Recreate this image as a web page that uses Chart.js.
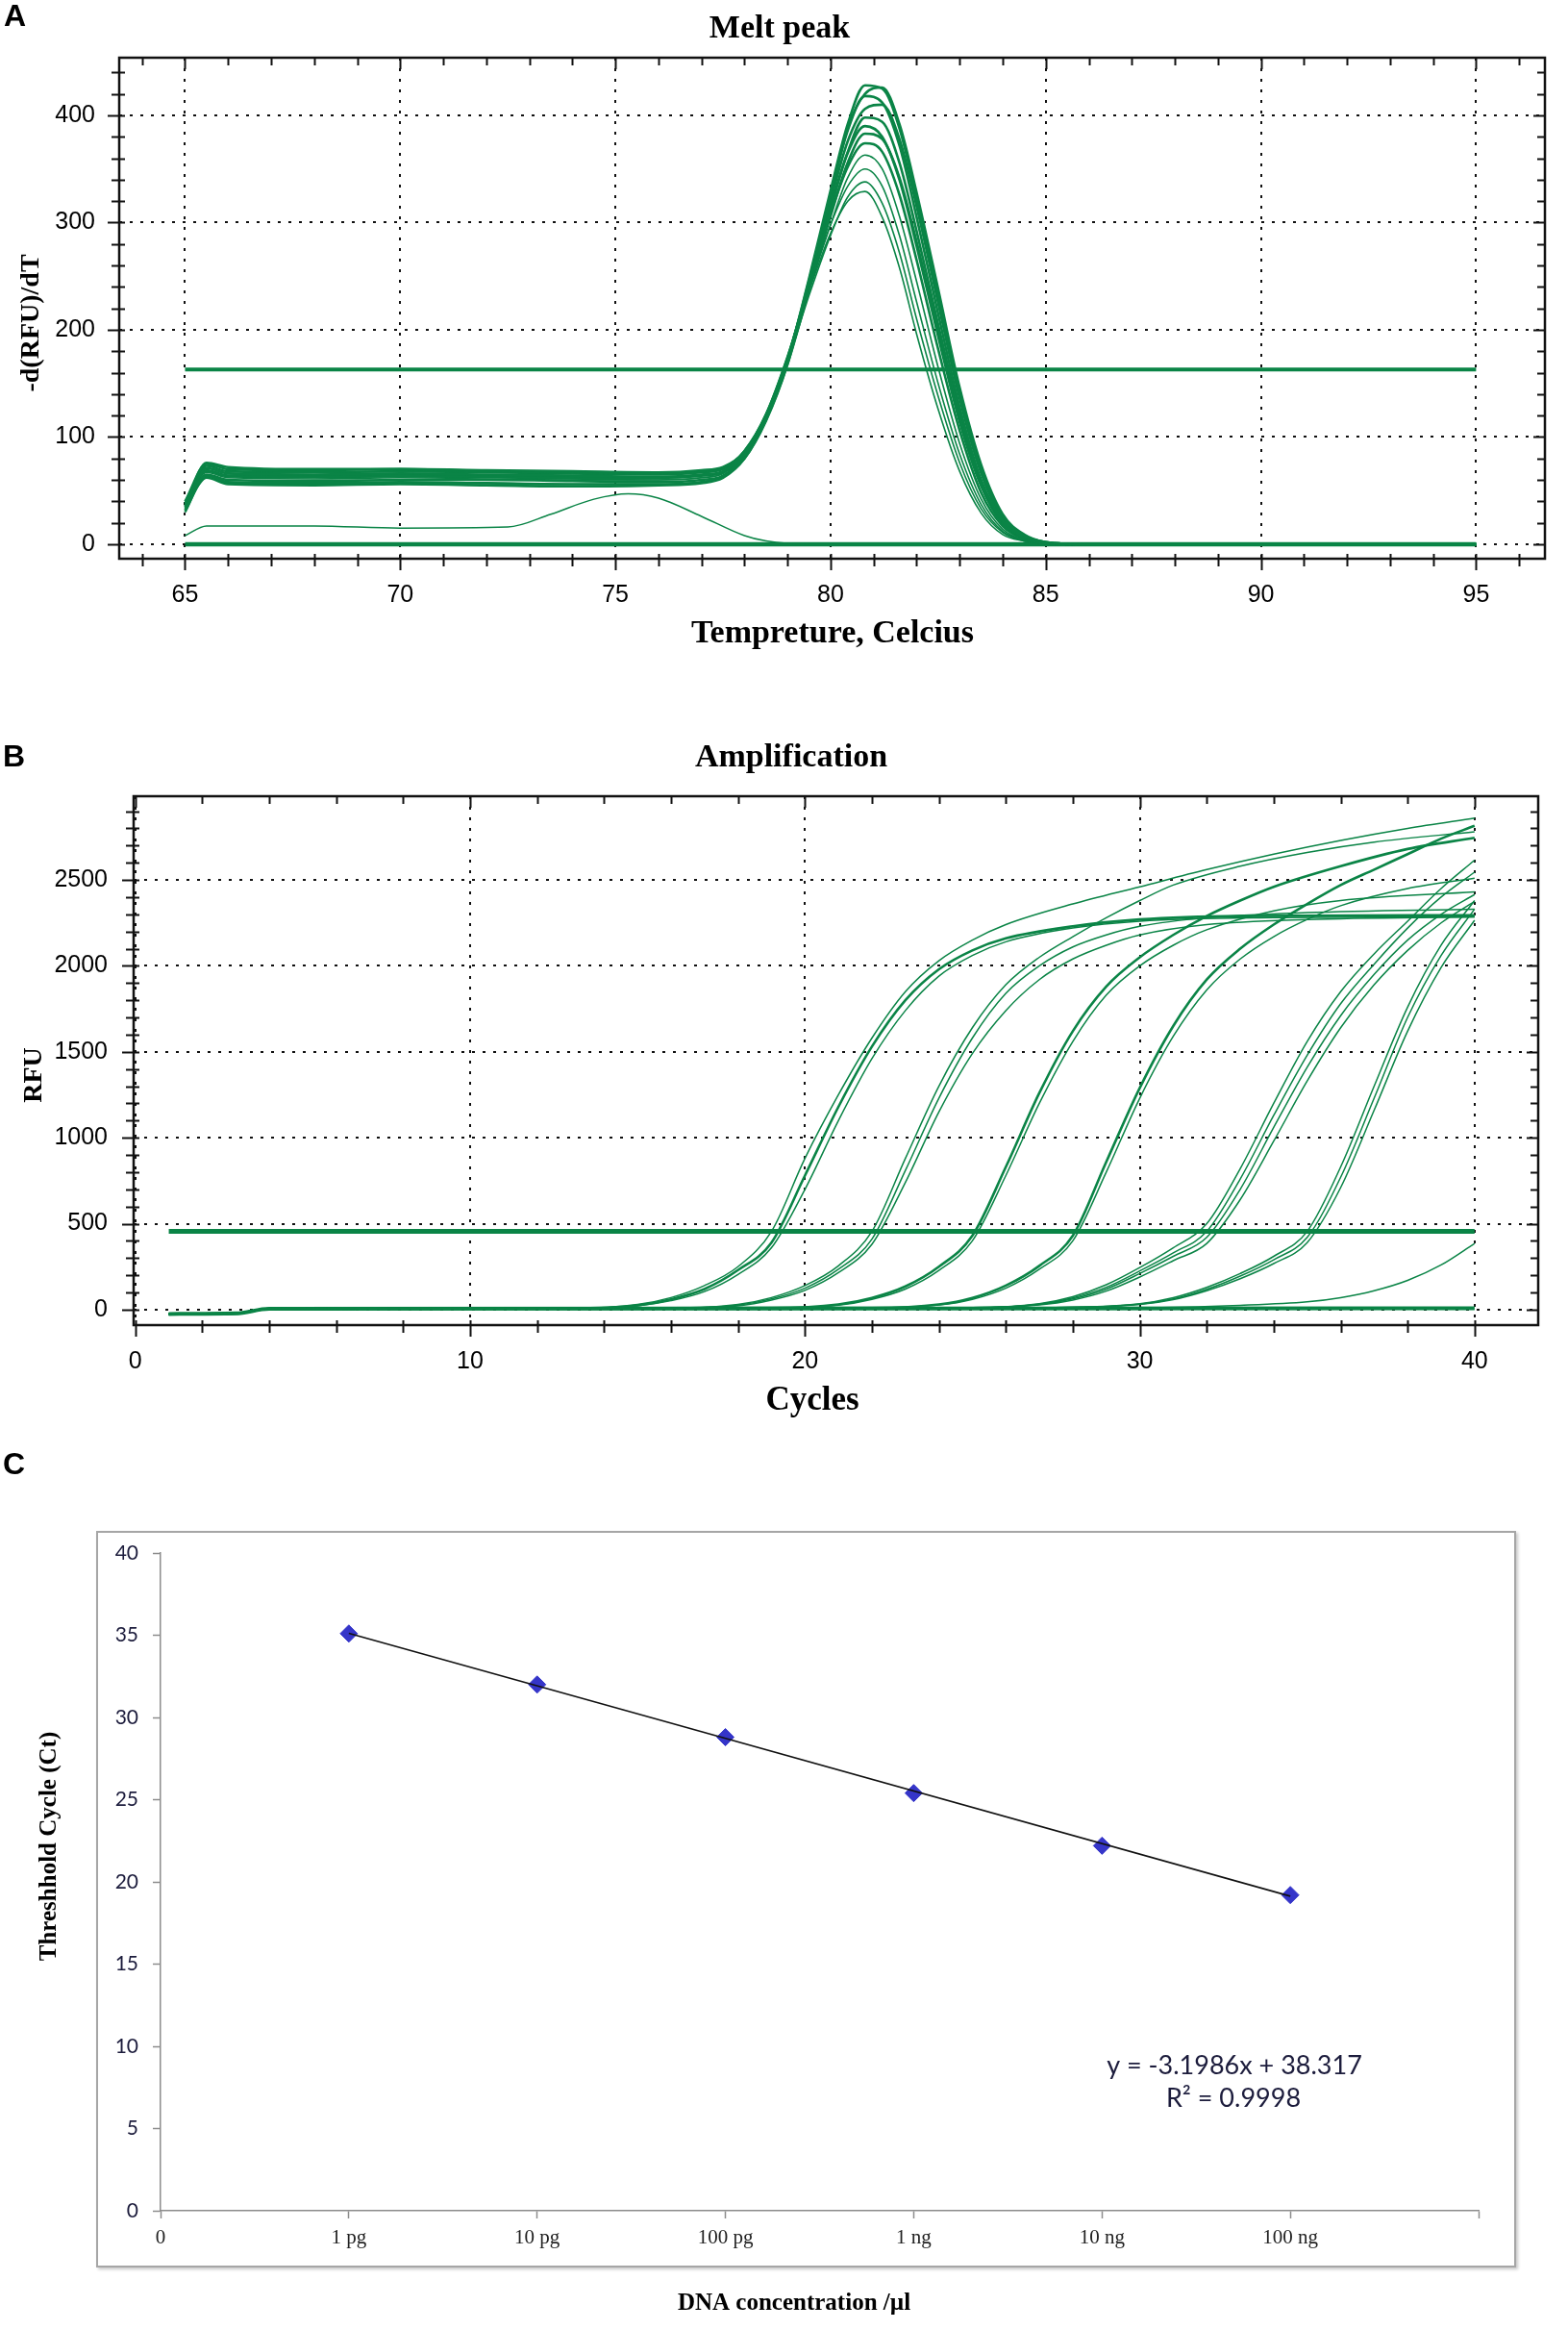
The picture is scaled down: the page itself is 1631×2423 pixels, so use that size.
<!DOCTYPE html>
<html>
<head>
<meta charset="utf-8">
<title>Melt peak, amplification and standard curve</title>
<script src="https://cdn.jsdelivr.net/npm/chart.js@4.4.1/dist/chart.umd.min.js"></script>
<style>
  html, body { margin: 0; padding: 0; background: #fff; }
  body { width: 1631px; height: 2423px; position: relative; overflow: hidden; }
  canvas { position: absolute; left: 0; }
  #meltChart { top: 0; }
  #ampChart { top: 740px; }
  #stdChart { top: 1480px; }
  .std-box { position: absolute; left: 100px; top: 1592px; width: 1473px; height: 762px;
             border: 2px solid #a6a6a6; box-shadow: 2px 2px 3px #c8c8c8; }
</style>
</head>
<body>
<div class="std-box"></div>
<canvas id="meltChart" width="1631" height="700"></canvas>
<canvas id="ampChart" width="1631" height="740"></canvas>
<canvas id="stdChart" width="1631" height="943"></canvas>
<script>
// ---- Panel A: melt peak ----
const meltTicksX = [65, 70, 75, 80, 85, 90, 95];
const meltTicksY = [0, 100, 200, 300, 400];
const meltTemp = [65, 65.5, 66, 68, 70, 72, 74, 76, 77, 77.5, 78, 78.5, 79, 79.5, 80, 80.4, 80.8, 81.2, 81.6, 82, 82.5, 83, 83.5, 84, 84.5, 85, 86, 95];
const meltCurves = [
    [35, 76, 72, 70, 70, 69, 68, 67, 69, 72, 86, 118, 172, 248, 330, 392, 428, 425, 388, 322, 232, 140, 70, 26, 8, 2, 0, 0],
    [38, 64, 58, 57, 58, 57, 56, 56, 58, 63, 80, 115, 168, 243, 325, 388, 420, 426, 392, 328, 238, 146, 74, 28, 9, 2, 0, 0],
    [32, 71, 66, 65, 66, 65, 64, 63, 65, 68, 85, 118, 172, 246, 326, 386, 418, 412, 372, 305, 215, 128, 60, 22, 7, 1, 0, 0],
    [40, 75, 70, 69, 70, 68, 67, 66, 68, 71, 87, 120, 172, 244, 320, 376, 406, 410, 378, 315, 225, 136, 66, 24, 8, 2, 0, 0],
    [34, 62, 56, 55, 56, 55, 54, 55, 57, 62, 80, 116, 168, 238, 312, 366, 398, 394, 356, 292, 205, 122, 58, 21, 6, 1, 0, 0],
    [36, 69, 64, 63, 64, 63, 62, 62, 64, 67, 85, 120, 173, 243, 315, 365, 390, 380, 340, 278, 194, 114, 54, 19, 6, 1, 0, 0],
    [30, 65, 60, 59, 60, 60, 59, 58, 60, 64, 83, 118, 170, 238, 306, 356, 383, 378, 342, 282, 198, 118, 56, 20, 6, 1, 0, 0],
    [38, 73, 68, 67, 68, 67, 66, 65, 67, 70, 87, 121, 174, 242, 308, 352, 374, 366, 326, 265, 182, 106, 48, 17, 5, 1, 0, 0],
    [33, 67, 62, 61, 62, 61, 60, 60, 62, 66, 84, 119, 171, 237, 298, 342, 363, 350, 306, 245, 165, 94, 42, 14, 4, 1, 0, 0],
    [36, 71, 66, 64, 65, 64, 63, 62, 64, 68, 86, 122, 176, 240, 298, 334, 350, 334, 288, 226, 150, 84, 37, 12, 4, 1, 0, 0],
    [31, 62, 57, 56, 57, 57, 56, 56, 58, 63, 82, 118, 170, 232, 288, 324, 338, 318, 272, 210, 138, 76, 33, 11, 3, 1, 0, 0],
    [35, 68, 63, 62, 63, 62, 61, 60, 62, 66, 85, 121, 174, 236, 290, 320, 329, 305, 258, 196, 126, 68, 29, 9, 3, 0, 0, 0]
];
// single sample with a small early peak
const bumpTemp = [65, 65.5, 68, 70, 72.5, 73.5, 74.5, 75.3, 76, 77, 78, 78.5, 79.5, 85, 95];
const bumpValues = [8, 17, 17, 15, 16, 28, 42, 47, 43, 26, 8, 3, 0, 0, 0];
const meltThreshold = 163;
const meltRange = [65, 95];

// ---- Panel B: amplification ----
const ampTicksX = [0, 10, 20, 30, 40];
const ampTicksY = [0, 500, 1000, 1500, 2000, 2500];
const ampCurves = [
    [[1, -25], [3, -22], [4, 5], [13, 8], [15, 30], [16, 70], [17, 140], [18, 250], [19, 455], [20, 880], [21, 1250], [22, 1580], [23, 1850], [24, 2030], [25, 2150], [26, 2240], [28, 2360], [30, 2460], [32, 2560], [34, 2650], [36, 2730], [38, 2800], [40, 2860]],
    [[1, -25], [3, -22], [4, 5], [13, 8], [15, 25], [16, 60], [17, 120], [18, 230], [19, 390], [20, 780], [21, 1180], [22, 1530], [23, 1800], [24, 1980], [25, 2090], [26, 2160], [28, 2230], [30, 2270], [33, 2290], [40, 2295]],
    [[1, -25], [3, -22], [4, 5], [13, 8], [15, 22], [16, 52], [17, 105], [18, 205], [19, 360], [20, 700], [21, 1100], [22, 1460], [23, 1740], [24, 1940], [25, 2060], [26, 2140], [28, 2220], [30, 2260], [34, 2280], [40, 2285]],
    [[1, -25], [3, -22], [4, 5], [16, 10], [18, 30], [19, 70], [20, 140], [21, 255], [22, 455], [23, 880], [24, 1300], [25, 1640], [26, 1890], [27, 2050], [28, 2170], [29, 2280], [30, 2380], [31, 2470], [33, 2580], [35, 2660], [37, 2720], [40, 2780]],
    [[1, -25], [3, -22], [4, 5], [16, 10], [18, 26], [19, 62], [20, 125], [21, 235], [22, 410], [23, 810], [24, 1230], [25, 1580], [26, 1840], [27, 2000], [28, 2110], [29, 2180], [30, 2230], [32, 2280], [35, 2310], [40, 2330]],
    [[1, -25], [3, -22], [4, 5], [16, 10], [18, 22], [19, 55], [20, 112], [21, 215], [22, 380], [23, 740], [24, 1150], [25, 1490], [26, 1740], [27, 1920], [28, 2040], [29, 2120], [30, 2180], [32, 2240], [35, 2270], [40, 2285]],
    [[1, -25], [3, -22], [4, 5], [19, 10], [21, 30], [22, 68], [23, 135], [24, 250], [25, 430], [26, 830], [27, 1260], [28, 1620], [29, 1880], [30, 2050], [31, 2180], [32, 2290], [33, 2380], [34, 2460], [36, 2580], [38, 2680], [40, 2745]],
    [[1, -25], [3, -22], [4, 5], [19, 10], [21, 26], [22, 60], [23, 120], [24, 228], [25, 400], [26, 780], [27, 1200], [28, 1560], [29, 1830], [30, 2000], [31, 2120], [32, 2210], [34, 2320], [36, 2380], [40, 2430]],
    [[1, -25], [3, -22], [4, 5], [22, 10], [24, 30], [25, 68], [26, 140], [27, 255], [28, 430], [29, 860], [30, 1290], [31, 1650], [32, 1920], [33, 2100], [34, 2240], [35, 2360], [36, 2470], [37, 2560], [38, 2650], [39, 2740], [40, 2815]],
    [[1, -25], [3, -22], [4, 5], [22, 10], [24, 27], [25, 60], [26, 125], [27, 235], [28, 400], [29, 800], [30, 1230], [31, 1590], [32, 1860], [33, 2040], [34, 2170], [35, 2270], [36, 2350], [38, 2450], [40, 2510]],
    [[1, -25], [3, -22], [4, 5], [25, 12], [27, 35], [28, 75], [29, 145], [30, 245], [31, 360], [32, 500], [33, 820], [34, 1200], [35, 1560], [36, 1850], [37, 2070], [38, 2260], [39, 2450], [40, 2615]],
    [[1, -25], [3, -22], [4, 5], [25, 12], [27, 32], [28, 68], [29, 130], [30, 225], [31, 330], [32, 455], [33, 760], [34, 1130], [35, 1480], [36, 1780], [37, 2010], [38, 2220], [39, 2400], [40, 2545]],
    [[1, -25], [3, -22], [4, 5], [25, 12], [27, 30], [28, 62], [29, 120], [30, 210], [31, 310], [32, 420], [33, 700], [34, 1060], [35, 1410], [36, 1710], [37, 1950], [38, 2150], [39, 2300], [40, 2415]],
    [[1, -25], [3, -22], [4, 5], [25, 12], [27, 28], [28, 56], [29, 108], [30, 190], [31, 285], [32, 385], [33, 640], [34, 980], [35, 1330], [36, 1640], [37, 1890], [38, 2090], [39, 2250], [40, 2375]],
    [[1, -25], [3, -22], [4, 5], [27, 12], [30, 35], [31, 70], [32, 130], [33, 210], [34, 310], [35, 455], [36, 830], [37, 1300], [38, 1760], [39, 2120], [40, 2380]],
    [[1, -25], [3, -22], [4, 5], [27, 12], [30, 32], [31, 62], [32, 118], [33, 195], [34, 290], [35, 420], [36, 770], [37, 1230], [38, 1700], [39, 2060], [40, 2330]],
    [[1, -25], [3, -22], [4, 5], [27, 12], [30, 30], [31, 58], [32, 110], [33, 180], [34, 268], [35, 390], [36, 710], [37, 1160], [38, 1620], [39, 1990], [40, 2265]],
    [[1, -25], [3, -22], [4, 5], [30, 12], [33, 25], [35, 45], [36, 70], [37, 110], [38, 170], [39, 260], [40, 385]],
    [[1, -25], [3, -22], [4, 5], [40, 8]]
];
const ampThreshold = 455;
const ampRange = [1, 40];

// ---- Panel C: standard curve ----
const concLabels = ['0', '1 pg', '10 pg', '100 pg', '1 ng', '10 ng', '100 ng', ''];
const concIndex = [1, 2, 3, 4, 5, 6];
const ctValues = [35.1, 32.0, 28.8, 25.4, 22.2, 19.2];
const trendIndex = [1, 6];
const trendCt = [35.12, 19.13];
const ctTicks = [0, 5, 10, 15, 20, 25, 30, 35, 40];

const GREEN = '#0a8446';
const serifBold = 'bold 34px "Liberation Serif", "DejaVu Serif", serif';
const tickFont = { family: '"Liberation Sans", Arial, sans-serif', size: 25 };

// draws free text (titles, panel letters, equation)
function textLayer(id, items) {
    return {
        id,
        afterDraw(chart) {
            const ctx = chart.ctx;
            items.forEach(it => {
                ctx.save();
                ctx.font = it.font;
                ctx.fillStyle = it.color || '#000';
                ctx.textAlign = it.align || 'center';
                ctx.textBaseline = 'middle';
                ctx.translate(it.x, it.y);
                if (it.rotate) ctx.rotate(it.rotate * Math.PI / 180);
                ctx.fillText(it.text, 0, 0);
                ctx.restore();
            });
        }
    };
}

// black frame with small inner tick marks, like the instrument software
function frameTicks(spec) {
    return {
        id: 'frameTicks',
        afterDraw(chart) {
            const { ctx, chartArea: a } = chart;
            const sx = chart.scales.x, sy = chart.scales.y;
            ctx.save();
            ctx.strokeStyle = '#111';
            ctx.lineWidth = 2;
            ctx.beginPath();
            for (let n = Math.ceil(sx.min / spec.xStep); n * spec.xStep <= sx.max; n++) {
                const p = Math.round(sx.getPixelForValue(n * spec.xStep)) + 0.5;
                const len = n % spec.xEvery === 0 ? 12 : 8;
                ctx.moveTo(p, a.bottom - 5); ctx.lineTo(p, a.bottom + len);
                ctx.moveTo(p, a.top); ctx.lineTo(p, a.top + len);
            }
            for (let n = Math.ceil(sy.min / spec.yStep); n * spec.yStep <= sy.max; n++) {
                const p = Math.round(sy.getPixelForValue(n * spec.yStep)) + 0.5;
                const len = n % spec.yEvery === 0 ? 12 : 8;
                ctx.moveTo(a.left - len, p); ctx.lineTo(a.left + 6, p);
                ctx.moveTo(a.right - len, p); ctx.lineTo(a.right, p);
            }
            ctx.stroke();
            ctx.lineWidth = 2.5;
            ctx.strokeRect(a.left, a.top, a.right - a.left, a.bottom - a.top);
            ctx.restore();
        }
    };
}

function softwareAxis(ticks, size, afterFit) {
    return {
        type: 'linear',
        afterBuildTicks: s => { s.ticks = ticks.map(v => ({ value: v })); },
        afterFit,
        grid: { color: '#111', lineWidth: 2, drawTicks: false },
        border: { display: false, dash: [3, 8] },
        ticks: { padding: size, font: tickFont, color: '#000', autoSkip: false, maxRotation: 0,
                 callback: v => String(v) }
    };
}

const baseOptions = {
    responsive: false,
    animation: false,
    devicePixelRatio: 1,
    plugins: { legend: { display: false }, tooltip: { enabled: false } },
    elements: { point: { radius: 0 }, line: { cubicInterpolationMode: 'monotone' } }
};

// Panel A
const meltSets = meltCurves.map((vals, i) => ({
    data: meltTemp.map((t, j) => ({ x: t, y: vals[j] })),
    borderColor: GREEN,
    borderWidth: i < 8 ? 2.6 : 1.6
}));
meltSets.push({ data: bumpTemp.map((t, j) => ({ x: t, y: bumpValues[j] })), borderColor: GREEN, borderWidth: 1.5 });
meltSets.push({ data: meltRange.map(t => ({ x: t, y: meltThreshold })), borderColor: GREEN, borderWidth: 4 });
meltSets.push({ data: meltRange.map(t => ({ x: t, y: 0 })), borderColor: GREEN, borderWidth: 4.5 });

const meltX = softwareAxis(meltTicksX, 23, s => { s.height = 119; });
meltX.min = 63.47; meltX.max = 96.6;
const meltY = softwareAxis(meltTicksY, 25, s => { s.width = 124; });
meltY.min = -13.5; meltY.max = 453.8;

new Chart(document.getElementById('meltChart'), {
    type: 'line',
    data: { datasets: meltSets },
    options: { ...baseOptions, layout: { padding: { top: 60, right: 24, left: 0, bottom: 0 } },
               scales: { x: meltX, y: meltY } },
    plugins: [
        frameTicks({ xStep: 1, xEvery: 5, yStep: 20, yEvery: 5 }),
        textLayer('meltText', [
            { text: 'A', x: 4, y: 18, align: 'left', font: 'bold 32px "Liberation Sans", Arial, sans-serif' },
            { text: 'Melt peak', x: 811, y: 30, font: serifBold },
            { text: '-d(RFU)/dT', x: 33, y: 336, rotate: -90, font: 'bold 28px "Liberation Serif", serif' },
            { text: 'Tempreture, Celcius', x: 866, y: 659, font: serifBold }
        ])
    ]
});

// Panel B
const ampSets = ampCurves.map((pts, i) => ({
    data: pts.map(([c, r]) => ({ x: c, y: r })),
    borderColor: GREEN,
    borderWidth: [1, 6, 8].includes(i) ? 2.6 : (i === ampCurves.length - 1 ? 4 : 1.5)
}));
ampSets.push({ data: ampRange.map(c => ({ x: c, y: ampThreshold })), borderColor: GREEN, borderWidth: 5 });

const ampX = softwareAxis(ampTicksX, 23, s => { s.height = 102; });
ampX.min = -0.05; ampX.max = 41.9;
const ampY = softwareAxis(ampTicksY, 27, s => { s.width = 139; });
ampY.min = -90; ampY.max = 2987;

new Chart(document.getElementById('ampChart'), {
    type: 'line',
    data: { datasets: ampSets },
    options: { ...baseOptions, layout: { padding: { top: 88, right: 31, left: 0, bottom: 0 } },
               scales: { x: ampX, y: ampY } },
    plugins: [
        frameTicks({ xStep: 2, xEvery: 5, yStep: 100, yEvery: 5 }),
        textLayer('ampText', [
            { text: 'B', x: 3, y: 48, align: 'left', font: 'bold 32px "Liberation Sans", Arial, sans-serif' },
            { text: 'Amplification', x: 823, y: 48, font: serifBold },
            { text: 'RFU', x: 36, y: 378, rotate: -90, font: 'bold 28px "Liberation Serif", serif' },
            { text: 'Cycles', x: 845, y: 717, font: 'bold 35px "Liberation Serif", serif' }
        ])
    ]
});

// Panel C
new Chart(document.getElementById('stdChart'), {
    type: 'scatter',
    data: {
        datasets: [
            { type: 'line', data: trendIndex.map((c, i) => ({ x: c, y: trendCt[i] })),
              borderColor: '#111', borderWidth: 1.6, pointRadius: 0 },
            { data: concIndex.map((c, i) => ({ x: c, y: ctValues[i] })),
              pointStyle: 'rectRot', pointRadius: 9, backgroundColor: '#3535c9', borderColor: '#3535c9', borderWidth: 1 }
        ]
    },
    options: {
        ...baseOptions,
        layout: { padding: { top: 135, right: 93, left: 0, bottom: 0 } },
        scales: {
            x: {
                type: 'linear', min: 0, max: 7,
                afterBuildTicks: s => { s.ticks = concLabels.map((_, i) => ({ value: i })); },
                afterFit: s => { s.height = 124; },
                grid: { drawOnChartArea: false, tickLength: 8, color: '#8c8c8c', tickWidth: 1.5 },
                border: { color: '#8c8c8c', width: 1.5 },
                ticks: { padding: 8, autoSkip: false, maxRotation: 0, color: '#222',
                         font: { family: '"Liberation Serif", serif', size: 21 },
                         callback: (v, i) => concLabels[i] }
            },
            y: {
                type: 'linear', min: 0, max: 40,
                afterBuildTicks: s => { s.ticks = ctTicks.map(v => ({ value: v })); },
                afterFit: s => { s.width = 167; },
                grid: { drawOnChartArea: false, tickLength: 8, color: '#8c8c8c', tickWidth: 1.5 },
                border: { color: '#8c8c8c', width: 1.5 },
                ticks: { padding: 15, color: '#1c1c3c', font: { family: 'Lato, "Open Sans", sans-serif', size: 21 },
                         callback: v => String(v) }
            }
        }
    },
    plugins: [
        textLayer('stdText', [
            { text: 'C', x: 3, y: 44, align: 'left', font: 'bold 32px "Liberation Sans", Arial, sans-serif' },
            { text: 'Threshhold Cycle (Ct)', x: 52, y: 440, rotate: -90, font: 'bold 25px "Liberation Serif", serif' },
            { text: 'DNA concentration /\u00b5l', x: 826, y: 916, font: 'bold 25px "Liberation Serif", serif' },
            { text: 'y = -3.1986x + 38.317', x: 1284, y: 668, color: '#1c1c3c', font: '27px Lato, "Open Sans", sans-serif' },
            { text: 'R\u00b2 = 0.9998', x: 1283, y: 702, color: '#1c1c3c', font: '27px Lato, "Open Sans", sans-serif' }
        ])
    ]
});
</script>
</body>
</html>
